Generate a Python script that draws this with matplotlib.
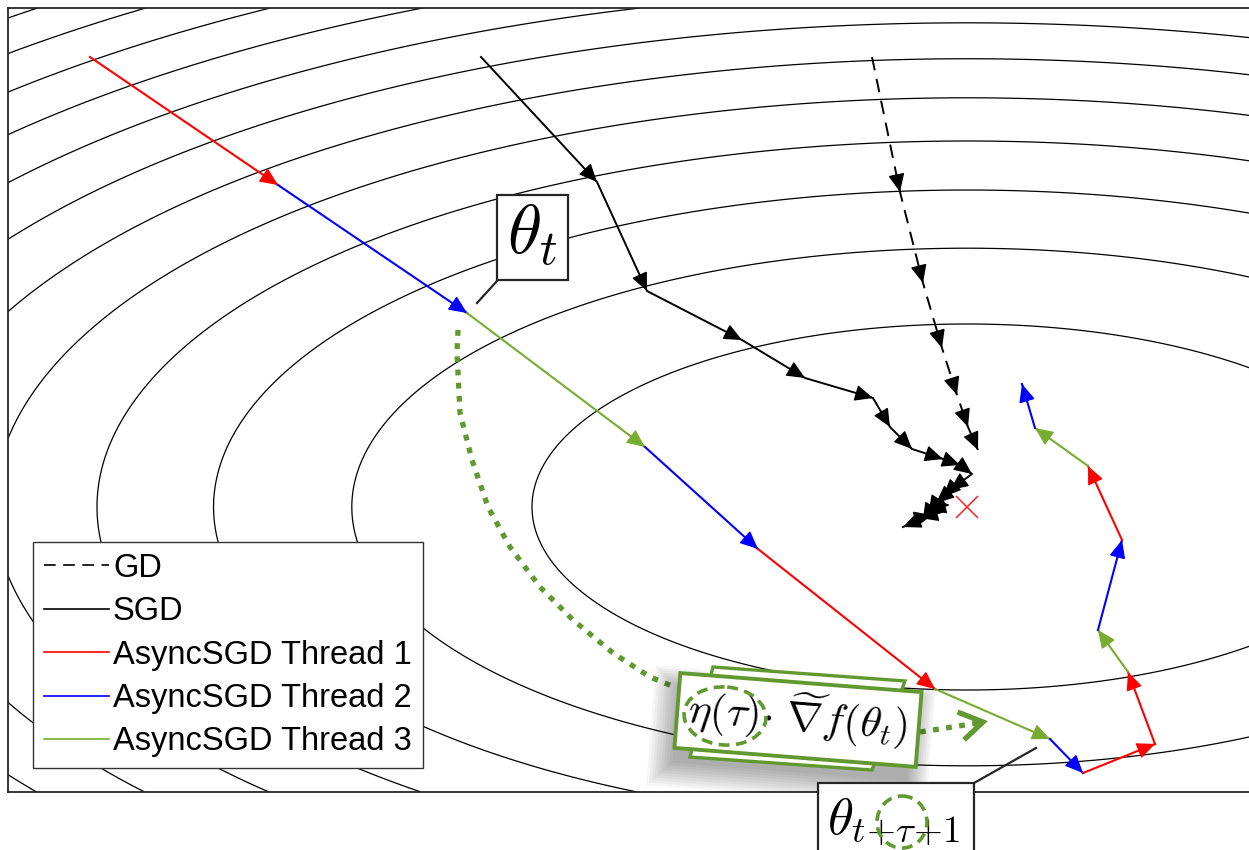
import numpy as np
import matplotlib
matplotlib.use('Agg')
import matplotlib.pyplot as plt
from matplotlib.patches import Rectangle, Ellipse, Polygon
from matplotlib.lines import Line2D

plt.rcParams['mathtext.fontset'] = 'cm'
plt.rcParams['font.family'] = ['Liberation Sans', 'DejaVu Sans']

# ---------------- data (pixel-space diagram coordinates) ----------------
min_x, min_y = 967, 507          # location of the minimum (red cross)
semi_a, semi_b = 435, 183        # semi-axes of the innermost contour
contour_levels = np.arange(1, 15)

gd_x = [872, 900, 923, 942, 957, 968, 978]
gd_y = [57, 192, 283, 348, 395, 427, 450]

sgd_x = [481, 597, 647, 742, 805, 873, 890, 912, 943, 960, 972, 950, 943, 936, 948, 928, 942, 920, 932, 903]
sgd_y = [57, 182, 291, 340, 378, 398, 427, 449, 459, 465, 474, 490, 497, 503, 505, 510, 512, 518, 515, 527]

async_x = [90, 278, 467, 645, 758, 935, 1050, 1083, 1155, 1128, 1098, 1122, 1088, 1035, 1022]
async_y = [57, 185, 313, 447, 549, 689, 739, 773, 744, 672, 630, 540, 466, 428, 384]
async_thread = [1, 2, 3, 2, 1, 3, 2, 1, 1, 3, 2, 1, 3, 2]

thread_colors = {1: '#ff0000', 2: '#0000ff', 3: '#77ac30'}
legend_labels = ['GD', 'SGD', 'AsyncSGD Thread 1', 'AsyncSGD Thread 2', 'AsyncSGD Thread 3']

delay_curve_x = [458, 457, 460, 472, 488, 510, 540, 573, 613, 650, 677]
delay_curve_y = [330, 353, 413, 460, 507, 547, 587, 620, 653, 677, 688]
update_x = [920, 978]
update_y = [732, 723]
chevron_x = [960, 983, 966]
chevron_y = [713, 722, 738]

ann_green = '#61982f'

# ---------------- figure ----------------
W, H = 1249, 850
fig = plt.figure(figsize=(W / 100, H / 100), dpi=100)
x_lo, x_hi, y_top, y_bot = 8, 1252, 8, 792
ax = fig.add_axes([x_lo / W, (H - y_bot) / H, (x_hi - x_lo) / W, (y_bot - y_top) / H])
ax.set_xlim(x_lo, x_hi)
ax.set_ylim(y_bot, y_top)
ax.set_xticks([])
ax.set_yticks([])
for s in ax.spines.values():
    s.set_linewidth(1.3)
    s.set_color('#262626')

# contours
gx = np.linspace(x_lo, x_hi, 900)
gy = np.linspace(y_top, y_bot, 600)
X, Y = np.meshgrid(gx, gy)
Z = ((X - min_x) / semi_a) ** 2 + ((Y - min_y) / semi_b) ** 2
ax.contour(X, Y, Z, levels=contour_levels, colors='k', linewidths=0.9, zorder=1)


def head(p0, p1, color, z=4):
    x0, y0 = p0
    x1, y1 = p1
    d = np.hypot(x1 - x0, y1 - y0)
    s = (x1 - (x1 - x0) / d * 4, y1 - (y1 - y0) / d * 4)
    ax.annotate('', xy=(x1, y1), xytext=s, xycoords='data',
                arrowprops=dict(arrowstyle='-|>,head_length=0.8,head_width=0.36',
                                color=color, lw=1.0, shrinkA=0, shrinkB=0,
                                mutation_scale=14), zorder=z)


# GD
ax.plot(gd_x, gd_y, color='k', lw=1.4, dashes=(7, 4.5), zorder=3)
for i in range(1, len(gd_x)):
    head((gd_x[i - 1], gd_y[i - 1]), (gd_x[i], gd_y[i]), 'k')

# SGD
ax.plot(sgd_x, sgd_y, color='k', lw=1.4, zorder=3)
for i in range(1, len(sgd_x)):
    head((sgd_x[i - 1], sgd_y[i - 1]), (sgd_x[i], sgd_y[i]), 'k')

# Async SGD
for i, th in enumerate(async_thread):
    c = thread_colors[th]
    ax.plot(async_x[i:i + 2], async_y[i:i + 2], color=c, lw=1.5, zorder=3)
    head((async_x[i], async_y[i]), (async_x[i + 1], async_y[i + 1]), c)

# minimum
ax.plot([min_x], [min_y], 'x', color='#ff2020', ms=16, mew=1.1, zorder=4)

# legend
handles = [Line2D([], [], color='k', lw=1.2, dashes=(7, 4.5)),
           Line2D([], [], color='k', lw=1.2),
           Line2D([], [], color=thread_colors[1], lw=1.2),
           Line2D([], [], color=thread_colors[2], lw=1.2),
           Line2D([], [], color=thread_colors[3], lw=1.2)]
leg = ax.legend(handles, legend_labels, loc='upper left', bbox_to_anchor=(33, 542),
                bbox_transform=ax.transData, fontsize=23.5, frameon=True, fancybox=False,
                framealpha=1, edgecolor='#333333', handlelength=2.0, handletextpad=0.12,
                labelspacing=0.38, borderpad=0.33, borderaxespad=0)
leg.get_frame().set_linewidth(1.0)
leg.set_zorder(10)

# theta_t box
ax.add_patch(Rectangle((497, 195), 71, 85, facecolor='white', edgecolor='#262626', lw=1.6, zorder=6))
ax.text(532, 236, r'$\theta_t$', fontsize=50, ha='center', va='center', zorder=7)
ax.plot([497, 477], [281, 303], color='#262626', lw=1.6, zorder=6)

# theta_{t+tau+1} box
ax.add_patch(Rectangle((818, 783), 156, 90, facecolor='white', edgecolor='#262626', lw=1.6,
                       zorder=6, clip_on=False))
ax.text(894, 822, r'$\theta_{t\!+\!\tau\!+\!1}$', fontsize=38, ha='center', va='center',
        zorder=7, clip_on=False)
ax.plot([974, 1036], [783, 748], color='#262626', lw=1.6, zorder=6, clip_on=False)
ax.add_patch(Ellipse((902, 822), 50, 52, fill=False, edgecolor=ann_green, lw=2.6,
                     linestyle=(0, (3, 1.8)), zorder=8, clip_on=False))

# dotted delay curve + update arrow
ax.plot(delay_curve_x, delay_curve_y, color=ann_green, lw=3.8, linestyle=(0, (1.1, 1.4)),
        solid_capstyle='butt', zorder=5)
ax.plot(update_x, update_y, color=ann_green, lw=3.8, linestyle=(0, (1.1, 1.4)), zorder=5)
ax.plot(chevron_x, chevron_y, color=ann_green, lw=3.8, solid_joinstyle='miter', zorder=5)

# green card stack with shadow
ang = 4.5
for k in range(10):
    g = 2.5 * k
    ax.add_patch(Rectangle((676 - g + 2, 684 - g + 4), 242 + 2 * g - 6, 75 + 2 * g,
                           angle=ang, facecolor='black', edgecolor='none',
                           alpha=0.035, zorder=5))
ax.add_patch(Polygon([(713, 667), (905, 681), (872, 770), (690, 757)], closed=True,
                     facecolor='white', edgecolor=ann_green, lw=2.4, zorder=5.5))
ax.add_patch(Rectangle((680.3, 673.1), 242, 75, angle=ang, facecolor='white',
                       edgecolor=ann_green, lw=2.8, zorder=6))
ax.text(798, 718, r'$\eta(\tau)\!\cdot\!\;\widetilde{\nabla} f(\theta_t)$', fontsize=31,
        rotation=-ang, rotation_mode='anchor', ha='center', va='center', zorder=7)
ax.add_patch(Ellipse((725, 716), 82, 58, angle=ang, fill=False, edgecolor=ann_green, lw=2.6,
                     linestyle=(0, (3, 1.8)), zorder=8))

fig.savefig('out.png', dpi=100)
